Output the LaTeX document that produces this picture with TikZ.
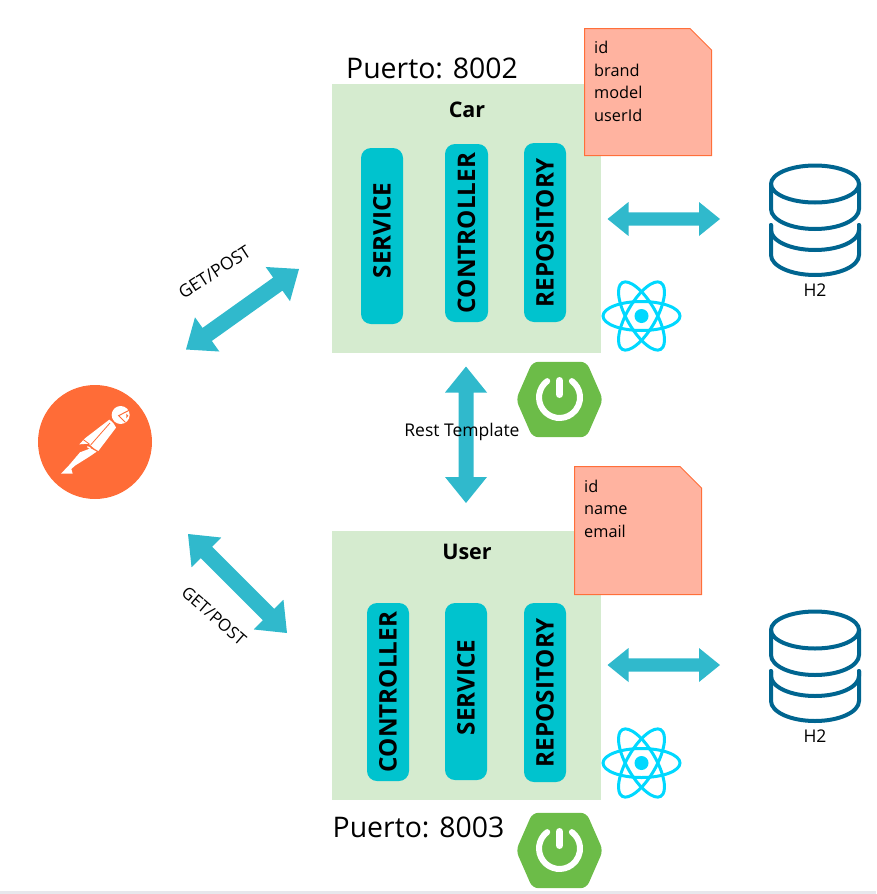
\documentclass[tikz,border=0pt]{standalone}
\usepackage{fontspec}
\setmainfont{Open Sans}
\usetikzlibrary{calc}
\definecolor{arrowc}{HTML}{30B9CC}
\definecolor{pillc}{HTML}{00C3CE}
\definecolor{boxc}{HTML}{D5EBCF}
\definecolor{notec}{HTML}{FFB3A0}
\definecolor{noteline}{HTML}{FF6F3A}
\definecolor{dbc}{HTML}{006590}
\definecolor{reactc}{HTML}{00D8FF}
\definecolor{springc}{HTML}{6CBC48}
\definecolor{postc}{HTML}{FF6C37}
\definecolor{barc}{HTML}{E7E7EC}
\newcommand{\dblarrow}[5]{%
 \fill[arrowc] (#1)
 -- ($(#1)!#3!(#2)!#4!90:(#2)$)
 -- ($(#1)!#3!(#2)!#5!90:(#2)$)
 -- ($(#2)!#3!(#1)!#5!-90:(#1)$)
 -- ($(#2)!#3!(#1)!#4!-90:(#1)$)
 -- (#2)
 -- ($(#2)!#3!(#1)!#4!90:(#1)$)
 -- ($(#2)!#3!(#1)!#5!90:(#1)$)
 -- ($(#1)!#3!(#2)!#5!-90:(#2)$)
 -- ($(#1)!#3!(#2)!#4!-90:(#2)$)
 -- cycle;}
\tikzset{
 x=1pt,y=-1pt,
 greenbox/.style={fill=boxc,draw=none,minimum width=269pt,minimum height=269pt,inner sep=0pt,anchor=north west},
 pill/.style={fill=pillc,draw=none,rounded corners=10pt,inner sep=0pt,rotate=90,align=center,
   font=\fontsize{24.2}{24.2}\selectfont\bfseries,text=black},
 title/.style={font=\fontsize{21.5}{24}\selectfont\bfseries,inner sep=0pt},
 port/.style={font=\fontsize{28.4}{30}\selectfont,anchor=base west,inner sep=0pt},
 notetext/.style={font=\fontsize{16.3}{22.6}\selectfont,align=left,anchor=north west,inner sep=0pt},
 small/.style={font=\fontsize{17.5}{20}\selectfont,inner sep=0pt},
 notebody/.style={fill=notec,draw=noteline,line width=1pt},
 pics/database/.style={code={
   \begin{scope}[dbc,line width=4pt,line cap=round]
    \draw (-44,0) arc[start angle=180,end angle=540,x radius=44,y radius=18.5];
    \draw (-44,0) -- (-44,25) arc[start angle=180,end angle=0,x radius=44,y radius=20] -- (44,0);
    \draw (-44,41) -- (-44,46) arc[start angle=180,end angle=0,x radius=44,y radius=20] -- (44,41);
    \draw (-44,41) -- (-44,71) arc[start angle=180,end angle=0,x radius=44,y radius=20] -- (44,41);
   \end{scope}}},
 pics/reacticon/.style={code={
   \begin{scope}[reactc,line width=3pt]
    \draw[rotate=0] (0,0) ellipse[x radius=38.5,y radius=14.5];
    \draw[rotate=60] (0,0) ellipse[x radius=38.5,y radius=14.5];
    \draw[rotate=-60] (0,0) ellipse[x radius=38.5,y radius=14.5];
    \fill (0,0) circle[radius=7];
   \end{scope}}},
 pics/springicon/.style={code={
   \fill[springc,rounded corners=6pt] (-43.5,0) -- (-27,-37.7) -- (27,-37.7) -- (43.5,0) -- (27,37.7) -- (-27,37.7) -- cycle;
   \draw[white,line width=6pt,line cap=round] (-12.3,-18.4) arc[start angle=233,end angle=-53,radius=20.5];
   \draw[white,line width=7pt,line cap=round] (0,-19) -- (0,-5);
 }},
}
\begin{document}
\begin{tikzpicture}
\useasboundingbox (0,0) rectangle (876,894);
\fill[barc] (0,891) rectangle (876,894);

% boxes
\node[greenbox] (car) at (332,84) {};
\node[greenbox] (user) at (332,531) {};
\node[title] (cart) at (467,110) {Car};
\node[title] (usert) at (467,552) {User};
\node[port] (p2) at (346,78) {Puerto: 8002};
\node[port] (p3) at (332.5,837) {Puerto: 8003};

% pills
\node[pill,text width=176pt,minimum height=42pt] (s1) at (382,236) {\hspace*{11pt}SERVICE};
\node[pill,text width=178pt,minimum height=43pt] (c1) at (466.5,233) {CONTROLLER};
\node[pill,text width=179pt,minimum height=42pt] (r1) at (545,232.5) {REPOSITORY};
\node[pill,text width=178pt,minimum height=42pt] (c2) at (388,692) {CONTROLLER};
\node[pill,text width=177pt,minimum height=42pt] (s2) at (466,691.5) {\hspace*{8pt}SERVICE};
\node[pill,text width=179pt,minimum height=42pt] (r2) at (545,692.5) {REPOSITORY};

% notes
\draw[notebody] (584.5,28.5) -- (690,28.5) -- (711.5,50) -- (711.5,155.5) -- (584.5,155.5) -- cycle;
\node[notetext] (n1) at (594,41) {id\\brand\\model\\userId};
\draw[notebody] (574.5,466.5) -- (680,466.5) -- (701.5,488) -- (701.5,594.5) -- (574.5,594.5) -- cycle;
\node[notetext] (n2) at (584,479.5) {id\\name\\email};

% arrows
\coordinate (a1) at (186,349.5); \coordinate (a2) at (299,269);
\coordinate (b1) at (188,534);   \coordinate (b2) at (287,633);
\coordinate (c1a) at (466,366.5);\coordinate (c2a) at (466,503);
\coordinate (d1) at (607.5,219); \coordinate (d2) at (720,219);
\coordinate (e1) at (607.5,665); \coordinate (e2) at (720,665);
\dblarrow{a1}{a2}{26pt}{21pt}{8pt}
\dblarrow{b1}{b2}{26pt}{21pt}{8pt}
\dblarrow{c1a}{c2a}{26pt}{21pt}{7.5pt}
\dblarrow{d1}{d2}{21pt}{17pt}{6.7pt}
\dblarrow{e1}{e2}{21pt}{17pt}{6.7pt}

% labels
\node[small] (rt) at (462,432) {Rest Template};
\node[small,rotate=33] (g1) at (214.5,272) {GET/POST};
\node[small,rotate=-41,font=\fontsize{16.8}{20}\selectfont] (g2) at (214,616) {GET/POST};
\node[small] (h1) at (815,290) {H2};
\node[small] (h2) at (815,736) {H2};

% icons
\pic at (815,184) {database};
\pic at (815,630) {database};
\pic at (641.5,316) {reacticon};
\pic at (641.5,763) {reacticon};
\pic at (559.5,399.5) {springicon};
\pic at (559.5,850.5) {springicon};

% postman
\fill[postc] (95,442) circle[radius=57];
\begin{scope}[shift={(30,395)},x=0.3333pt,y=-0.3333pt]
 \fill[white] (272,60) circle[radius=27];
 \draw[postc,line width=1pt] (297,46) -- (266,62) -- (286,82);
 \fill[postc] (289,56) -- (295,62) -- (289,70) -- cycle;
 \fill[white] (238,74) to[bend left=15] (258,98) -- (205,168) -- (192,160) -- (176,146) -- (148,148) -- (165,130) -- cycle;
 \draw[postc,line width=0.8pt] (240,84) -- (182,150);
 \draw[postc,line width=0.8pt] (160,134) -- (178,147);
 \fill[white] (172,153) -- (181,157) -- (183,163) -- (172,158) -- cycle;
 \fill[white] (182,160) -- (200,170) -- (178,185) -- (135,212) -- (124,222) -- (128,236) -- (93,236) -- (116,212) -- (150,172) -- cycle;
\end{scope}
\end{tikzpicture}
\end{document}
